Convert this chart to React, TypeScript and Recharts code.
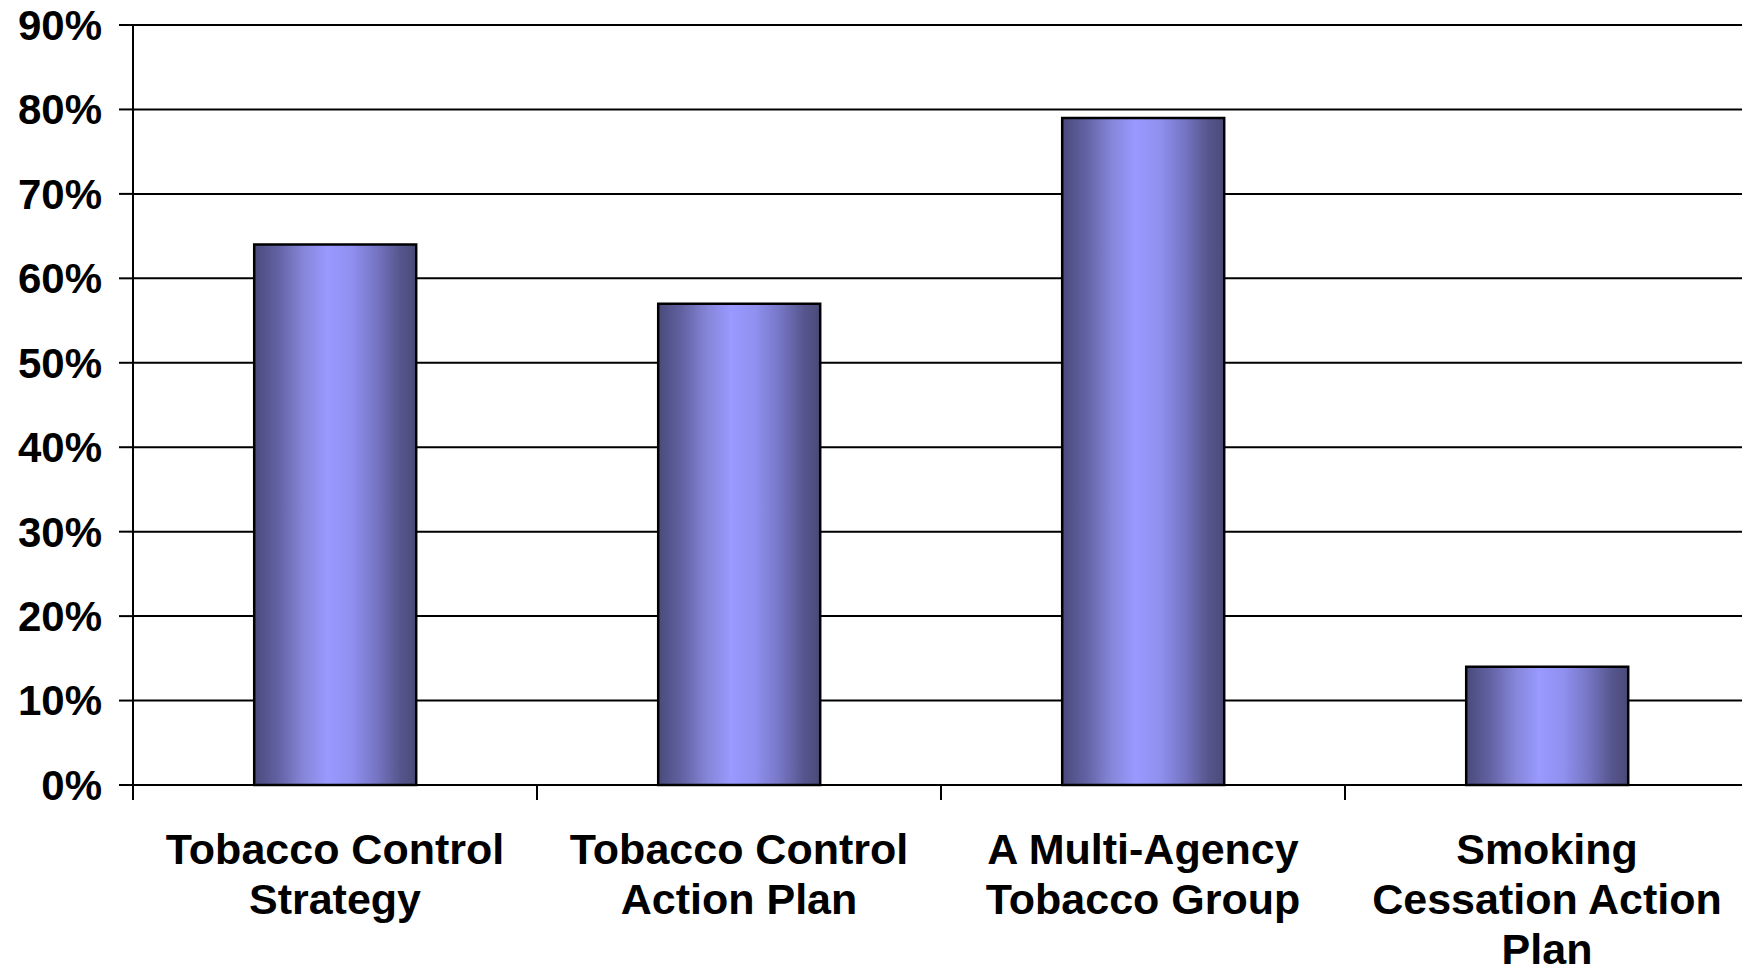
import { BarChart, Bar, XAxis, YAxis, CartesianGrid } from "recharts";

const categories = [
    ["Tobacco Control", "Strategy"],
    ["Tobacco Control", "Action Plan"],
    ["A Multi-Agency", "Tobacco Group"],
    ["Smoking", "Cessation Action", "Plan"],
];
const percentages = [64, 57, 79, 14];
const yTicks = [0, 10, 20, 30, 40, 50, 60, 70, 80, 90];

const data = categories.map((lines, i) => ({ name: lines.join(" "), value: percentages[i] }));

const CHART_W = 1760;
const CHART_H = 974;
const Y_W = 133;
const M_RIGHT = 11;
const BAND = (CHART_W - Y_W - M_RIGHT) / categories.length;
const FONT = "'Liberation Sans', Arial, sans-serif";

const XTick = (props: any) => {
    const { x, y, index } = props;
    const lines = categories[index] || [];
    const half = BAND / 2;
    return (
        <g>
            <line x1={x - half} y1={y} x2={x - half} y2={y + 15} stroke="#000" strokeWidth={2} />
            {index === categories.length - 1 && (
                <line x1={x + half} y1={y} x2={x + half} y2={y + 15} stroke="#000" strokeWidth={2} />
            )}
            {lines.map((l, i) => (
                <text
                    key={i}
                    x={x}
                    y={y + 79 + i * 50}
                    textAnchor="middle"
                    fontFamily={FONT}
                    fontWeight="bold"
                    fontSize={43}
                    fill="#000"
                >
                    {l}
                </text>
            ))}
        </g>
    );
};

const App = () => (
    <div style={{ position: "fixed", left: 0, top: 0, width: 1742, height: 974, overflow: "hidden", background: "#fff" }}>
        <BarChart
            width={CHART_W}
            height={CHART_H}
            data={data}
            margin={{ top: 25, right: M_RIGHT, bottom: 0, left: 0 }}
            barCategoryGap="30%"
        >
            <defs>
                <linearGradient id="barGrad" x1="0" y1="0" x2="1" y2="0">
                    <stop offset="0%" stopColor="#4a4a7c" />
                    <stop offset="15%" stopColor="#6262a4" />
                    <stop offset="30%" stopColor="#8585d8" />
                    <stop offset="45%" stopColor="#9999ff" />
                    <stop offset="60%" stopColor="#9090f0" />
                    <stop offset="75%" stopColor="#7676c6" />
                    <stop offset="90%" stopColor="#56568e" />
                    <stop offset="100%" stopColor="#4a4a78" />
                </linearGradient>
            </defs>
            <CartesianGrid vertical={false} stroke="#000" strokeWidth={2} />
            <XAxis
                dataKey="name"
                height={CHART_H - 25 - 760}
                axisLine={{ stroke: "#000", strokeWidth: 2 }}
                tickLine={false}
                tickSize={0}
                tickMargin={0}
                interval={0}
                tick={<XTick />}
            />
            <YAxis
                width={Y_W}
                domain={[0, 90]}
                ticks={yTicks}
                interval={0}
                tickFormatter={(v: number) => `${v}%`}
                axisLine={{ stroke: "#000", strokeWidth: 2 }}
                tickLine={{ stroke: "#000", strokeWidth: 2 }}
                tickSize={14}
                tickMargin={17}
                tick={{ fill: "#000", fontFamily: FONT, fontWeight: "bold", fontSize: 42 }}
            />
            <Bar dataKey="value" fill="url(#barGrad)" stroke="#000" strokeWidth={2.5} isAnimationActive={false} />
        </BarChart>
    </div>
);

export default App;
